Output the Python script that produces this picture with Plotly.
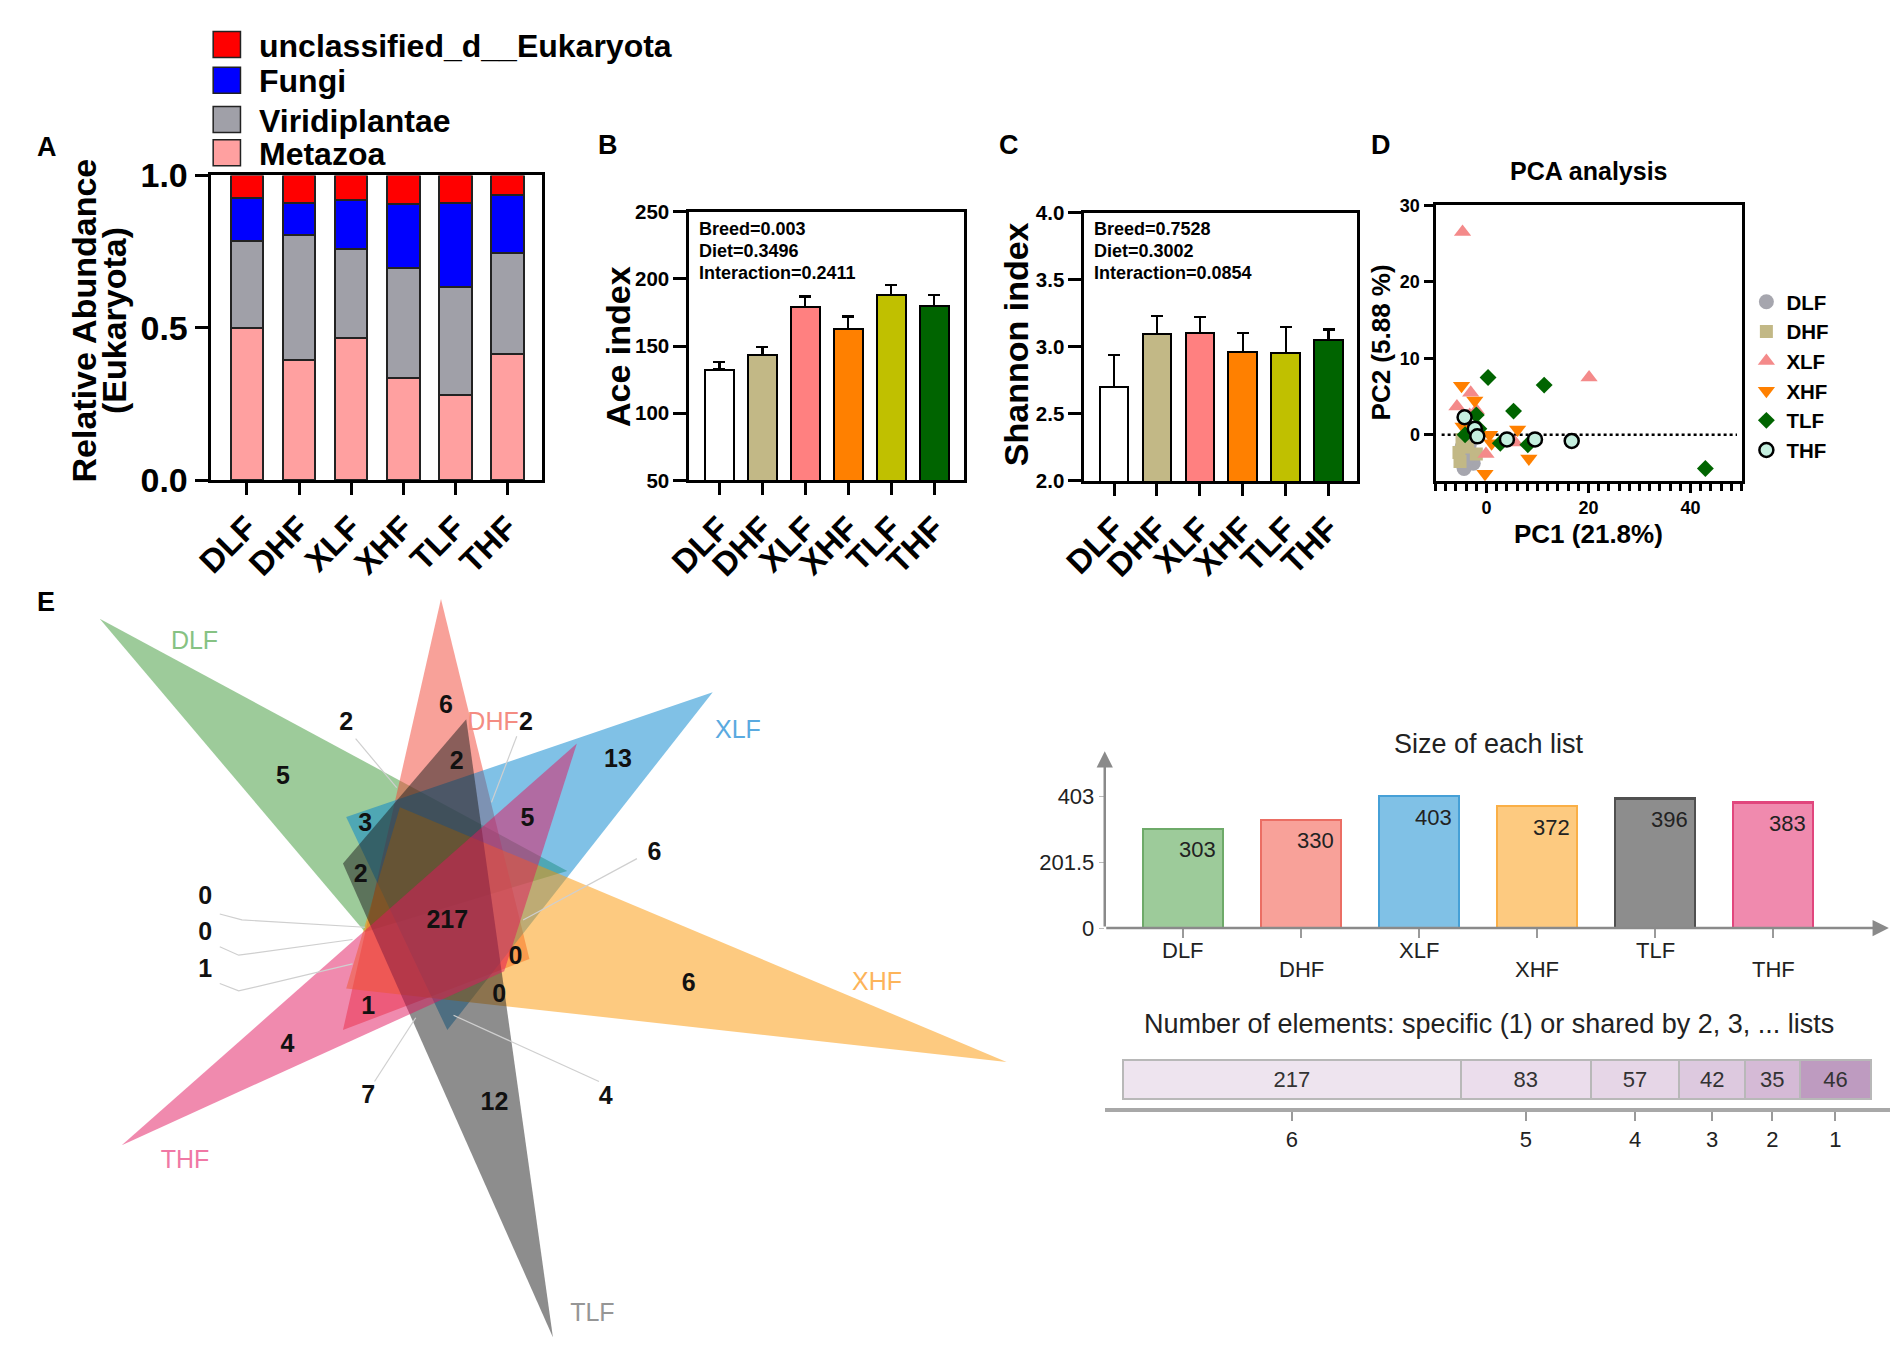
import numpy as np
import plotly.graph_objects as go

# ---------------- data ----------------
groups = ['DLF', 'DHF', 'XLF', 'XHF', 'TLF', 'THF']

# A: relative abundance (Eukaryota)
metazoa = [0.498, 0.395, 0.467, 0.335, 0.280, 0.414]
viridiplantae = [0.286, 0.408, 0.291, 0.360, 0.355, 0.330]
fungi = [0.143, 0.108, 0.162, 0.210, 0.275, 0.191]
unclassified = [0.073, 0.089, 0.080, 0.095, 0.090, 0.065]

# B / C: alpha diversity
ace_mean = [132.6, 143.5, 179.0, 162.8, 188.2, 179.8]
ace_err = [5.3, 6.0, 8.0, 9.2, 7.5, 8.4]
shannon_mean = [2.700, 3.097, 3.105, 2.964, 2.956, 3.054]
shannon_err = [0.240, 0.133, 0.120, 0.141, 0.189, 0.075]

# D: PCA scores
dlf_pc1 = [-4.4, -4.8, -3.4, -2.9, -2.6, -3.7]
dlf_pc2 = [-4.4, -1.6, -1.4, -2.5, -3.7, -3.1]
dhf_pc1 = [-4.8, -5.4, -2.0, -5.2, -3.7]
dhf_pc2 = [-0.6, -2.3, -2.5, -3.5, -1.6]
xlf_pc1 = [-4.7, 20.1, -3.1, -5.8, -2.0, -3.3, 5.6, -0.1]
xlf_pc2 = [26.5, 7.5, 5.5, 3.7, 3.2, 2.6, -1.0, -2.5]
xhf_pc1 = [-4.9, -2.3, -4.6, 0.6, 1.0, 6.1, 8.3, -0.3]
xhf_pc2 = [6.4, 4.5, 1.1, 0.0, -1.1, 0.7, -3.1, -5.1]
tlf_pc1 = [0.3, 11.3, 5.3, -2.0, -1.5, 2.7, 8.1, 42.9, -4.2]
tlf_pc2 = [7.5, 6.5, 3.1, 2.6, 0.8, -1.1, -1.3, -4.4, 0.0]
thf_pc1 = [-4.3, -2.3, -1.8, 4.0, 9.5, 16.7]
thf_pc2 = [2.3, 0.8, -0.2, -0.6, -0.6, -0.8]

# E: Venn + list sizes
list_sizes = [303, 330, 403, 372, 396, 383]
shared_counts = [217, 83, 57, 42, 35, 46]
shared_by = ['6', '5', '4', '3', '2', '1']
venn_values = ['6', '2', '2', '2', '5', '13', '3', '5', '6', '2', '0', '217',
               '0', '0', '1', '6', '0', '1', '4', '7', '12', '4']

# ---------------- geometry / style ----------------
W, H = 1902, 1368
MW, MH = 1568, 1128   # layout sketched on a 1568 x 1128 grid


def fx(x):
    return x / MW


def fy(y):
    return 1 - y / MH


FONT = 'Liberation Sans, Arial, sans-serif'
NARROW = 'Liberation Sans Narrow, Arial Narrow, Liberation Sans, sans-serif'

bar_colors = ['#FFFFFF', '#C2B886', '#FF8080', '#FF8000', '#C0C000', '#006400']

venn_fill = ['rgba(59,151,53,0.5)', 'rgba(241,67,51,0.5)', 'rgba(1,131,205,0.5)',
             'rgba(251,149,1,0.5)', 'rgba(27,27,27,0.5)', 'rgba(225,21,93,0.5)']
venn_text_col = ['#86C283', '#F48C82', '#5AAAE0', '#FDB45A', '#969696', '#F078A5']
size_fill = ['#9DCB9A', '#F8A199', '#80C1E6', '#FDCA80', '#8D8D8D', '#F08AAE']
size_line = ['#6EAA69', '#EB6E64', '#46A0D7', '#FAAF46', '#505050', '#E1467D']
shared_fill = ['#EEE4EF', '#EBDDEC', '#E6D6E7', '#DDC9DF', '#D5BAD6', '#BE9BC0']

# triangle outlines of the 6-set Venn (sketch grid units)
venn_tri = [
    [(62.4, 508.6), (453.0, 722.5), (284.0, 774.4)],
    [(347.5, 492.0), (265.6, 857.5), (421.4, 797.3)],
    [(574.5, 571.0), (268.3, 676.8), (352.8, 857.5)],
    [(820.0, 884.5), (313.2, 668.5), (268.3, 822.2)],
    [(441.0, 1118.0), (265.6, 716.3), (368.6, 593.8)],
    [(80.8, 955.1), (461.0, 614.5), (400.3, 807.7)],
]
venn_name_x = [141.6, 391.0, 595.6, 711.8, 474.0, 133.6]
venn_name_y = [529.4, 598.0, 604.2, 818.0, 1099.0, 969.6]
venn_val_x = [351.7, 268.3, 418.5, 360.7, 215.5, 495.3, 284.1, 419.8, 525.9, 280.4, 150.5,
              352.8, 150.5, 409.8, 150.5, 554.5, 396.1, 286.8, 219.2, 286.8, 392.2, 485.0]
venn_val_y = [583.4, 598.0, 598.0, 631.2, 643.6, 629.1, 683.1, 678.9, 708.0, 726.7, 745.4,
              765.3, 775.7, 796.0, 806.8, 818.9, 828.4, 838.8, 871.2, 914.4, 920.3, 914.8]
leader_x = [276.2, 310.5, None, 410.8, 389.7, None, 511.2, 416.1, None, 292.0, 326.4, None,
            479.5, 358.0, None, 162.7, 181.2, 284.1, None, 162.7, 178.5, 273.6, None,
            162.7, 178.5, 273.6]
leader_y = [610.4, 651.9, None, 608.3, 664.4, None, 712.1, 764.1, None, 901.1, 847.1, None,
            901.1, 845.0, None, 759.1, 764.1, 770.3, None, 786.9, 794.0, 780.7, None,
            818.0, 824.3, 801.4]

fig = go.Figure()

# ---------------- A: stacked bars ----------------
for vals, col in [(metazoa, '#FFA0A0'), (viridiplantae, '#A0A0A8'),
                  (fungi, '#0000FF'), (unclassified, '#FF0000')]:
    fig.add_trace(go.Bar(x=groups, y=vals, marker=dict(color=col, line=dict(color='#222', width=2)),
                         width=0.63, xaxis='x', yaxis='y', showlegend=False))

# ---------------- B / C: bars with error ----------------
for means, errs, xa, ya in [(ace_mean, ace_err, 'x2', 'y2'), (shannon_mean, shannon_err, 'x3', 'y3')]:
    fig.add_trace(go.Bar(x=groups, y=means, width=0.667,
                         marker=dict(color=bar_colors, line=dict(color='black', width=2)),
                         error_y=dict(type='data', symmetric=False, array=errs,
                                      arrayminus=[0] * 6, color='black', thickness=2.2, width=6),
                         xaxis=xa, yaxis=ya, showlegend=False))

# ---------------- D: PCA ----------------
pca_sets = [
    ('DLF', dlf_pc1, dlf_pc2, dict(symbol='circle', size=15, color='#A6A6AE')),
    ('DHF', dhf_pc1, dhf_pc2, dict(symbol='square', size=13, color='#C2B886')),
    ('XLF', xlf_pc1, xlf_pc2, dict(symbol='triangle-up', size=15, color='#F48A8A')),
    ('XHF', xhf_pc1, xhf_pc2, dict(symbol='triangle-down', size=15, color='#FF8000')),
    ('TLF', tlf_pc1, tlf_pc2, dict(symbol='diamond', size=13, color='#006400')),
    ('THF', thf_pc1, thf_pc2, dict(symbol='circle', size=14, color='#C5EFDF',
                                   line=dict(color='black', width=2.5))),
]
for name, px_, py_, mk in pca_sets:
    fig.add_trace(go.Scatter(x=px_, y=py_, mode='markers', name=name, marker=mk,
                             xaxis='x4', yaxis='y4'))

# ---------------- E: Venn ----------------
for tri, col in zip(venn_tri, venn_fill):
    xs = [p[0] for p in tri] + [tri[0][0]]
    ys = [p[1] for p in tri] + [tri[0][1]]
    fig.add_trace(go.Scatter(x=xs, y=ys, mode='lines', fill='toself', fillcolor=col,
                             line=dict(width=0), xaxis='x5', yaxis='y5', showlegend=False,
                             hoverinfo='skip'))
fig.add_trace(go.Scatter(x=leader_x, y=leader_y, mode='lines', line=dict(color='#CFCFCF', width=1.2),
                         xaxis='x5', yaxis='y5', showlegend=False, hoverinfo='skip'))
fig.add_trace(go.Scatter(x=venn_val_x, y=venn_val_y, mode='text', text=venn_values,
                         textfont=dict(family=NARROW, size=25, color='#111111', weight='bold'),
                         xaxis='x5', yaxis='y5', showlegend=False))
fig.add_trace(go.Scatter(x=venn_name_x, y=venn_name_y, mode='text', text=groups,
                         textfont=dict(family=NARROW, size=25, color=venn_text_col),
                         xaxis='x5', yaxis='y5', showlegend=False))

# ---------------- E: size of each list ----------------
fig.add_trace(go.Bar(x=list(range(6)), y=list_sizes, width=0.677,
                     marker=dict(color=size_fill, line=dict(color=size_line, width=2.5)),
                     xaxis='x6', yaxis='y6', showlegend=False))

# ---------------- E: shared elements ----------------
for cnt, col in zip(shared_counts, shared_fill):
    fig.add_trace(go.Bar(x=[cnt], y=[0], orientation='h', width=0.684, text=[str(cnt)],
                         textposition='inside', insidetextanchor='middle', textangle=0,
                         textfont=dict(family=NARROW, size=22, color='#333333'),
                         marker=dict(color=col, line=dict(color='#B8B8B8', width=2)),
                         xaxis='x7', yaxis='y7', showlegend=False))
shared_edges = np.cumsum(shared_counts)
shared_centers = shared_edges - np.array(shared_counts) / 2

# ---------------- axes ----------------
tick_bold = dict(family=FONT, color='black', weight='bold')
frame = dict(showline=True, linecolor='black', linewidth=3, mirror=True, ticks='outside',
             tickcolor='black', tickwidth=3, showgrid=False, zeroline=False)

layout = dict(
    width=W, height=H, margin=dict(l=0, r=0, t=0, b=0),
    paper_bgcolor='white', plot_bgcolor='rgba(0,0,0,0)', barmode='stack',
    font=dict(family=FONT, color='black'),
    xaxis=dict(domain=[fx(155), fx(432)], range=[-0.70, 5.67], anchor='y', ticklen=12,
               tickangle=-45, tickfont=dict(size=33, **tick_bold), **frame),
    yaxis=dict(domain=[fy(391), fy(132.7)], range=[0, 1], anchor='x', ticklen=13,
               tickvals=[0, 0.5, 1.0], tickformat='.1f', tickfont=dict(size=34, **tick_bold), **frame),
    xaxis2=dict(domain=[fx(555), fx(784)], range=[-0.70, 5.68], anchor='y2', ticklen=12,
                tickangle=-45, tickfont=dict(size=33, **tick_bold), **frame),
    yaxis2=dict(domain=[fy(391.4), fy(163.5)], range=[50, 250], anchor='x2', ticklen=13, dtick=50,
                tickfont=dict(size=20.5, **tick_bold), **frame),
    xaxis3=dict(domain=[fx(885), fx(1113)], range=[-0.69, 5.67], anchor='y3', ticklen=12,
                tickangle=-45, tickfont=dict(size=33, **tick_bold), **frame),
    yaxis3=dict(domain=[fy(391.8), fy(164.3)], range=[2, 4], anchor='x3', ticklen=13, dtick=0.5,
                tickformat='.1f', tickfont=dict(size=20.5, **tick_bold), **frame),
    xaxis4=dict(domain=[fx(1178.3), fx(1434)], range=[-10, 50], anchor='y4', ticklen=9,
                tickvals=[0, 20, 40], tickfont=dict(size=18, **tick_bold),
                minor=dict(dtick=2, tick0=0, ticks='outside', ticklen=7, tickwidth=2.5,
                           tickcolor='black'), **frame),
    yaxis4=dict(domain=[fy(391.6), fy(158)], range=[-6, 30], anchor='x4', ticklen=9,
                tickvals=[0, 10, 20, 30], tickfont=dict(size=18, **tick_bold), **frame),
    xaxis5=dict(domain=[0, fx(830)], range=[0, 830], anchor='y5', visible=False),
    yaxis5=dict(domain=[0, fy(480)], range=[MH, 480], anchor='x5', visible=False),
    xaxis6=dict(domain=[fx(902), fx(1557)], range=[-0.664, 5.98], anchor='y6',
                tickvals=list(range(6)), showticklabels=False, ticks='outside', ticklen=9,
                tickcolor='#9A9A9A', tickwidth=1.5, showgrid=False, zeroline=False, showline=False),
    yaxis6=dict(domain=[fy(771), fy(621)], range=[0, 540], anchor='x6',
                tickvals=[0, 201.5, 403], ticktext=['0', '201.5', '403'], ticks='outside',
                ticklen=5, tickcolor='#BBBBBB', tickfont=dict(family=NARROW, size=22, color='#222'),
                showgrid=False, zeroline=False, showline=False),
    xaxis7=dict(domain=[fx(902), fx(1558)], range=[-11.5, 492], anchor='y7',
                tickvals=list(shared_centers), ticktext=shared_by, ticks='outside', ticklen=9,
                tickcolor='#9A9A9A', tickwidth=1.5, tickfont=dict(family=NARROW, size=22, color='#222'),
                showline=True, linecolor='#A8A8A8', linewidth=3.5, showgrid=False, zeroline=False),
    yaxis7=dict(domain=[fy(923.5), fy(875.3)], range=[-0.5, 0.5], anchor='x7', visible=False),
    legend=dict(x=fx(1438), y=fy(223), xanchor='left', yanchor='top', bgcolor='rgba(0,0,0,0)',
                font=dict(family=FONT, size=20.5, color='black', weight='bold'),
                itemsizing='trace', traceorder='normal', tracegroupgap=0),
)
fig.update_layout(**layout)

annotations = []
shapes = []


def note(text, x, y, size, bold=True, angle=0, xanchor='center', color='black', family=FONT):
    annotations.append(dict(text=text, x=fx(x), y=fy(y), xref='paper', yref='paper',
                            showarrow=False, textangle=angle, xanchor=xanchor, yanchor='middle',
                            font=dict(family=family, size=size, color=color,
                                      weight='bold' if bold else 'normal')))


# panel letters
for letter, lx, ly in [('A', 18.5, 108.6), ('B', 487, 106.7), ('C', 822, 106.7),
                       ('D', 1132.8, 106.9), ('E', 17.5, 494.1)]:
    note(letter, lx, ly, 27)

# A legend (drawn by hand, top to bottom)
legend_rows = [('unclassified_d__Eukaryota', '#FF0000', 21.7), ('Fungi', '#0000FF', 51.9),
               ('Viridiplantae', '#A0A0A8', 85.2), ('Metazoa', '#FFA0A0', 113.4)]
for label, col, ry in legend_rows:
    shapes.append(dict(type='rect', xref='paper', yref='paper', x0=fx(157.2), x1=fx(180),
                       y0=fy(ry + 11), y1=fy(ry - 11), fillcolor=col,
                       line=dict(color='#222', width=1.5)))
    note(label, 194, ry + 1, 32, xanchor='left')

# axis titles
note('Relative Abundance', 49, 256, 34, angle=-90)
note('(Eukaryota)', 74.5, 256, 34, angle=-90)
note('Ace index', 495.5, 278.1, 34, angle=-90)
note('Shannon index', 828.5, 276, 34, angle=-90)
note('PC2 (5.88 %)', 1133, 274.1, 26, angle=-90)
note('PC1 (21.8%)', 1306, 437, 26)
note('PCA analysis', 1306, 128.8, 25)

# statistics text
for i, line in enumerate(['Breed=0.003', 'Diet=0.3496', 'Interaction=0.2411']):
    note(line, 561.2, 178 + 18.8 * i, 18, xanchor='left')
for i, line in enumerate(['Breed=0.7528', 'Diet=0.3002', 'Interaction=0.0854']):
    note(line, 891, 178 + 18.8 * i, 18, xanchor='left')

# E right titles
note('Size of each list', 1223, 615, 27, bold=False, color='#222', family=NARROW)
note('Number of elements: specific (1) or shared by 2, 3, ... lists', 1223, 852.7, 27,
     bold=False, color='#222', family=NARROW)

# arrows of the list-size axes
for hx, hy in [(-0.664, 540), (5.98, 0)]:
    annotations.append(dict(x=hx, y=hy, ax=-0.664, ay=0, xref='x6', yref='y6', axref='x6',
                            ayref='y6', showarrow=True, arrowhead=2, arrowsize=1.3, arrowwidth=2.5,
                            arrowcolor='#8A8A8A', text=''))

# value and category labels of the list-size bars
for i, (g, v) in enumerate(zip(groups, list_sizes)):
    annotations.append(dict(x=i + 0.12, y=v, xref='x6', yref='y6', text=str(v), showarrow=False,
                            yshift=-21, font=dict(family=NARROW, size=22, color='#222')))
    annotations.append(dict(x=i, y=0, xref='x6', yref='y6', text=g, showarrow=False,
                            yshift=-22 if i % 2 == 0 else -41,
                            font=dict(family=NARROW, size=22, color='#222')))

# dotted zero line in the PCA plot
shapes.append(dict(type='line', xref='x4 domain', yref='y4', x0=0.02, x1=0.985, y0=0, y1=0,
                   line=dict(color='black', width=2.5, dash='dot'), layer='below'))

fig.update_layout(annotations=annotations, shapes=shapes)

fig.write_html('out.html', config={'displayModeBar': False},
               post_script="document.body.style.margin='0px';")
